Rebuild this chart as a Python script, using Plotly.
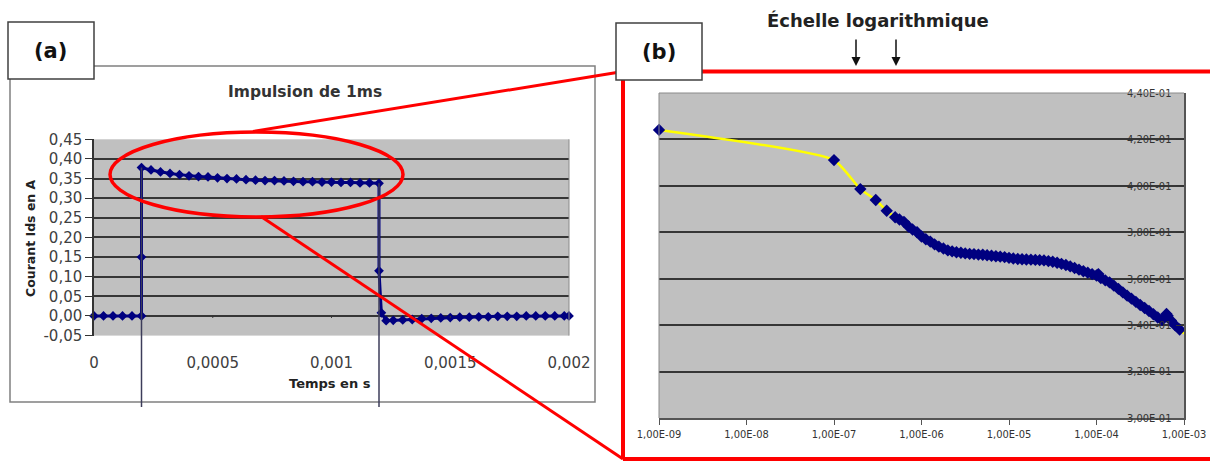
import plotly.graph_objects as go

# ---------------- data: panel (a) linear time ----------------
time_a = [0, 0.00004, 0.00008, 0.00012, 0.00016, 0.0002, 0.0002, 0.0002,
          0.00024, 0.00028, 0.00032, 0.00036, 0.0004, 0.00044, 0.00048, 0.00052,
          0.00056, 0.0006, 0.00064, 0.00068, 0.00072, 0.00076, 0.0008, 0.00084,
          0.00088, 0.00092, 0.00096, 0.001, 0.00104, 0.00108, 0.00112, 0.00116,
          0.0012, 0.0012, 0.00121, 0.00123, 0.00126, 0.0013, 0.00134, 0.00138,
          0.00142, 0.00146, 0.0015, 0.00154, 0.00158, 0.00162, 0.00166, 0.0017,
          0.00174, 0.00178, 0.00182, 0.00186, 0.0019, 0.00194, 0.00198, 0.002]
current_a = [0.0, 0.0, 0.0, 0.0, 0.0, 0.0, 0.15, 0.378,
             0.372, 0.367, 0.363, 0.360, 0.357, 0.355, 0.354, 0.352,
             0.350, 0.349, 0.347, 0.346, 0.345, 0.345, 0.344, 0.343,
             0.342, 0.342, 0.341, 0.341, 0.340, 0.340, 0.339, 0.339,
             0.338, 0.115, 0.008, -0.012, -0.011, -0.010, -0.009, -0.007,
             -0.006, -0.005, -0.004, -0.003, -0.003, -0.002, -0.002, -0.001,
             -0.001, -0.001, 0.0, 0.0, 0.0, 0.0, 0.0, 0.0]
pulse_edges_a = [0.0002, 0.0012]
pulse_tops_a = [0.378, 0.338]
xticks_a = [0, 0.0005, 0.001, 0.0015, 0.002]
xticktext_a = ["0", "0,0005", "0,001", "0,0015", "0,002"]
yticks_a = [-0.05, 0.0, 0.05, 0.10, 0.15, 0.20, 0.25, 0.30, 0.35, 0.40, 0.45]
yticktext_a = ["-0,05", "0,00", "0,05", "0,10", "0,15", "0,20", "0,25", "0,30",
               "0,35", "0,40", "0,45"]

# ---------------- data: panel (b) log time ----------------
time_b = [1e-9, 1e-7, 2e-7, 3e-7, 4e-7,
          5.0e-7, 5.6e-7, 6.3e-7, 7.1e-7, 7.9e-7, 8.9e-7,
          1.00e-6, 1.12e-6, 1.26e-6, 1.41e-6, 1.58e-6, 1.78e-6, 2.00e-6, 2.24e-6,
          2.51e-6, 2.82e-6, 3.16e-6, 3.55e-6, 3.98e-6, 4.47e-6, 5.01e-6, 5.62e-6,
          6.31e-6, 7.08e-6, 7.94e-6, 8.91e-6,
          1.00e-5, 1.12e-5, 1.26e-5, 1.41e-5, 1.58e-5, 1.78e-5, 2.00e-5, 2.24e-5,
          2.51e-5, 2.82e-5, 3.16e-5, 3.55e-5, 3.98e-5, 4.47e-5, 5.01e-5, 5.62e-5,
          6.31e-5, 7.08e-5, 7.94e-5, 8.91e-5,
          1.00e-4, 1.05e-4, 1.12e-4, 1.26e-4, 1.41e-4, 1.58e-4, 1.78e-4, 2.00e-4,
          2.24e-4, 2.51e-4, 2.82e-4, 3.16e-4, 3.55e-4, 3.98e-4, 4.47e-4, 5.01e-4,
          5.62e-4, 6.31e-4, 6.50e-4, 7.08e-4, 7.94e-4, 8.91e-4, 1.00e-3]
current_b = [0.4241, 0.4111, 0.3986, 0.3939, 0.3893,
             0.3865, 0.3855, 0.3845, 0.3825, 0.3812, 0.3800,
             0.3782, 0.3770, 0.3760, 0.3748, 0.3738, 0.3730, 0.3722, 0.3718,
             0.3714, 0.3712, 0.3709, 0.3707, 0.3706, 0.3704, 0.3703, 0.3701,
             0.3699, 0.3697, 0.3695, 0.3693,
             0.3690, 0.3687, 0.3685, 0.3684, 0.3683, 0.3682, 0.3681, 0.3680,
             0.3679, 0.3676, 0.3673, 0.3669, 0.3664, 0.3659, 0.3653, 0.3646,
             0.3639, 0.3632, 0.3626, 0.3620,
             0.3614, 0.3620, 0.3603, 0.3593, 0.3584, 0.3570, 0.3556, 0.3541,
             0.3527, 0.3514, 0.3500, 0.3487, 0.3474, 0.3461, 0.3447, 0.3433,
             0.3422, 0.3448, 0.3440, 0.3420, 0.3399, 0.3381, 0.3364]
xticks_b = [1e-9, 1e-8, 1e-7, 1e-6, 1e-5, 1e-4, 1e-3]
xticktext_b = ["1,00E-09", "1,00E-08", "1,00E-07", "1,00E-06", "1,00E-05",
               "1,00E-04", "1,00E-03"]
yticks_b = [0.30, 0.32, 0.34, 0.36, 0.38, 0.40, 0.42, 0.44]
yticktext_b = ["3,00E-01", "3,20E-01", "3,40E-01", "3,60E-01", "3,80E-01",
               "4,00E-01", "4,20E-01", "4,40E-01"]

# ---------------- layout helpers ----------------
W, H = 1210, 461
def px(x):
    return x / W
def py(y):
    return 1 - y / H

FONT = "DejaVu Sans"
SMALL = "DejaVu Sans Condensed, DejaVu Sans"
NAVY = "#000080"
GRID = "#363636"

xa_dom = [px(94), px(569)]
ya_dom = [py(335.6), py(139.3)]
xb_dom = [px(659), px(1184)]
yb_dom = [py(418), py(93)]
ya_range = [-0.05, 0.45]

def ya_paper(v):
    return ya_dom[0] + (v - ya_range[0]) / (ya_range[1] - ya_range[0]) * (ya_dom[1] - ya_dom[0])

fig = go.Figure()

fig.add_trace(go.Scatter(
    x=time_a, y=current_a, mode="lines+markers", xaxis="x", yaxis="y",
    line=dict(color=NAVY, width=3),
    marker=dict(symbol="diamond", size=7.5, color=NAVY),
    cliponaxis=False, showlegend=False, hoverinfo="skip"))

fig.add_trace(go.Scatter(
    x=time_b, y=current_b, mode="lines+markers", xaxis="x2", yaxis="y2",
    line=dict(color="#ffff00", width=2.5, shape="spline", smoothing=0.5),
    marker=dict(symbol="diamond", size=9.5, color=NAVY),
    cliponaxis=False, showlegend=False, hoverinfo="skip"))

shapes = []
# panel (a) outer frame
shapes.append(dict(type="rect", xref="paper", yref="paper",
                   x0=px(10), x1=px(595), y0=py(402), y1=py(66),
                   line=dict(color="#808080", width=1.5), layer="above"))
# plot-area borders (thin grey)
shapes.append(dict(type="line", xref="paper", yref="paper",
                   x0=xa_dom[1], x1=xa_dom[1], y0=ya_dom[0], y1=ya_dom[1],
                   line=dict(color="#8a8a8a", width=1), layer="above"))
shapes.append(dict(type="line", xref="paper", yref="paper",
                   x0=xb_dom[0], x1=xb_dom[0], y0=yb_dom[0], y1=yb_dom[1],
                   line=dict(color="#8a8a8a", width=1), layer="above"))
shapes.append(dict(type="line", xref="paper", yref="paper",
                   x0=xb_dom[0], x1=xb_dom[1], y0=yb_dom[1], y1=yb_dom[1],
                   line=dict(color="#8a8a8a", width=1), layer="above"))
# small category-axis ticks on the zero line of (a)
for t in xticks_a[1:-1]:
    shapes.append(dict(type="line", xref="x", yref="y", x0=t, x1=t, y0=0, y1=-0.005,
                       line=dict(color="#333333", width=1), layer="above"))
# vertical guide lines at pulse edges
for t, v in zip(pulse_edges_a, pulse_tops_a):
    shapes.append(dict(type="line", xref="x", yref="paper", x0=t, x1=t,
                       y0=py(407), y1=ya_paper(v),
                       line=dict(color="#3c3c5a", width=1.5), layer="above"))
# red zoom ellipse and connectors
RED = "#ff0000"
shapes.append(dict(type="circle", xref="paper", yref="paper",
                   x0=px(110), x1=px(403), y0=py(217), y1=py(132),
                   line=dict(color=RED, width=3.5), layer="above"))
shapes.append(dict(type="line", xref="paper", yref="paper",
                   x0=px(253), y0=py(131.5), x1=px(623), y1=py(71.5),
                   line=dict(color=RED, width=3), layer="above"))
shapes.append(dict(type="line", xref="paper", yref="paper",
                   x0=px(261), y0=py(216.5), x1=px(623), y1=py(459),
                   line=dict(color=RED, width=3), layer="above"))
# red frame of (b): top, left and bottom (right edge lies outside the picture)
for (x0, y0, x1, y1) in [(623, 71.5, 1210, 71.5), (623, 71.5, 623, 459),
                         (623, 459, 1210, 459)]:
    shapes.append(dict(type="line", xref="paper", yref="paper",
                       x0=px(x0), y0=py(y0), x1=px(x1), y1=py(y1),
                       line=dict(color=RED, width=4), layer="above"))
# label boxes
shapes.append(dict(type="rect", xref="paper", yref="paper",
                   x0=px(8), x1=px(94), y0=py(79), y1=py(22),
                   fillcolor="white", line=dict(color="#404040", width=1.5), layer="above"))
shapes.append(dict(type="rect", xref="paper", yref="paper",
                   x0=px(616), x1=px(702), y0=py(80), y1=py(23),
                   fillcolor="white", line=dict(color="#404040", width=1.5), layer="above"))

ann = []
def txt(x, y, s, size, color="#222222", angle=0):
    ann.append(dict(x=px(x), y=py(y), xref="paper", yref="paper", text=s,
                    showarrow=False, textangle=angle,
                    font=dict(family=FONT, size=size, color=color),
                    xanchor="center", yanchor="middle"))

txt(51, 51, "<b>(a)</b>", 21, "#111111")
txt(659, 52, "<b>(b)</b>", 21, "#111111")
txt(305, 92, "<b>Impulsion de 1ms</b>", 15.5, "#333333")
txt(30, 238, "<b>Courant Ids en A</b>", 12.5, "#222222", angle=-90)
txt(330, 383, "<b>Temps en s</b>", 13, "#222222")
txt(878, 20, "<b>Échelle logarithmique</b>", 18, "#222222")
for ax_x in (856, 896):
    ann.append(dict(x=px(ax_x), y=py(66), xref="paper", yref="paper", text="",
                    showarrow=True, ax=0, ay=-28, arrowhead=2, arrowsize=1.2,
                    arrowwidth=1.5, arrowcolor="#111111"))

fig.update_layout(
    width=W, height=H, autosize=False,
    margin=dict(l=0, r=0, t=0, b=0, pad=0, autoexpand=False),
    paper_bgcolor="white", plot_bgcolor="#c0c0c0",
    font=dict(family=FONT),
    showlegend=False,
    shapes=shapes, annotations=ann,
    xaxis=dict(domain=xa_dom, anchor="y", range=[0, 0.002], automargin=False,
               tickvals=xticks_a, ticktext=xticktext_a,
               showgrid=False, zeroline=False, showline=False, ticks="",
               ticklabelstandoff=16, ticklabeloverflow="allow",
               tickfont=dict(family=FONT, size=15, color="#404040")),
    yaxis=dict(domain=ya_dom, anchor="x", range=ya_range, automargin=False,
               tickvals=yticks_a, ticktext=yticktext_a,
               showgrid=True, gridcolor=GRID, gridwidth=1.6, zeroline=False,
               showline=True, linecolor="#333333", linewidth=1.5,
               ticks="outside", ticklen=7, tickcolor="#333333",
               tickfont=dict(family=FONT, size=15, color="#404040")),
    xaxis2=dict(domain=xb_dom, anchor="y2", type="log", range=[-9, -3],
                automargin=False,
                tickvals=xticks_b, ticktext=xticktext_b,
                showgrid=False, zeroline=False, showline=True,
                linecolor="#555555", linewidth=1.5,
                ticks="outside", ticklen=5, tickcolor="#555555",
                ticklabeloverflow="allow",
                tickfont=dict(family=SMALL, size=11, color="#333333")),
    yaxis2=dict(domain=yb_dom, anchor="x2", side="right", range=[0.30, 0.44],
                automargin=False,
                tickvals=yticks_b, ticktext=yticktext_b,
                showgrid=True, gridcolor=GRID, gridwidth=2, zeroline=False,
                showline=True, linecolor="#555555", linewidth=1.5,
                ticks="inside", ticklen=8, tickcolor="#333333",
                ticklabelposition="inside", ticklabeloverflow="allow",
                ticklabelstandoff=4,
                tickfont=dict(family=SMALL, size=11, color="#333333")),
)

fig.write_html("out.html", config={"displayModeBar": False},
               post_script="document.body.style.margin='0';document.body.style.padding='0';"
                           "document.body.style.overflow='hidden';")
